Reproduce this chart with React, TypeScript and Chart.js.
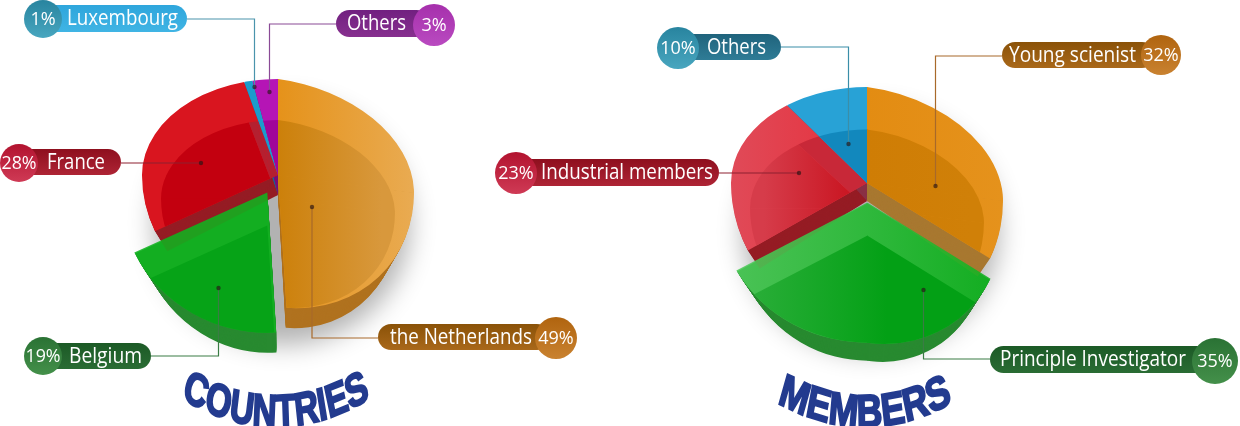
import React, { useEffect, useRef } from "react";
import { Chart, registerables } from "chart.js";

Chart.register(...registerables);

// ---------- data ----------
const countryNames = ["the Netherlands", "Belgium", "France", "Luxembourg", "Others"];
const countryShares = [49, 19, 28, 1, 3];
const memberNames = ["Young scienist", "Principle Investigator", "Industrial members", "Others"];
const memberShares = [32, 35, 23, 10];
const chartTitles = ["COUNTRIES", "MEMBERS"];

// ---------- styles ----------
// A fill is a colour or a horizontal gradient: [from, to, x0 rel. centre, x1 rel. centre]
type Fill = string | [string, string, number, number];
const countryRim: Fill[] = [["#e5921a", "#e9ab52", 0, 136], "#10b31f", "#d9151f", "#1b9ccc", "#b515b5"];
const countryInner: Fill[] = [["#cc800a", "#d8983c", 0, 120], "#06a317", "#c3000f", "#1288bd", "#a0059a"];
const countrySide = ["#b0721f", "#288a30", "#951c24", "#0f6f96", "#7a0f78"];
const memberRim: Fill[] = [["#e38c12", "#e5921c", 0, 136], ["#50cb5c", "#10b21f", -130, 130], ["#e04a58", "#e6303c", -136, 0], "#28a2d6"];
const memberInner: Fill[] = [["#cf7d05", "#d08008", 0, 120], ["#30b03e", "#03a015", -130, 20], ["#d63c4a", "#c8121e", -120, -10], "#1288bd"];
const memberSide = ["#a87830", "#288a30", "#951c24", "#8a3045"];

// pill top, pill bottom, circle top, circle bottom, leader
const palette: Record<string, [string, string, string, string, string]> = {
  orange: ["#8a5208", "#a9681a", "#b0640f", "#c98230", "#a8692a"],
  green: ["#1c5a26", "#2a6c34", "#2a7234", "#44904a", "#3a7c44"],
  red: ["#8e0f1e", "#ae2435", "#b2132f", "#cf3a55", "#8e2030"],
  sky: ["#2ea6dc", "#40b4e4", "#28849f", "#48a6bf", "#4a94ac"],
  teal: ["#1f637c", "#2f7c96", "#28849f", "#48a6bf", "#3a8ea8"],
  purple: ["#712080", "#87308f", "#a630ac", "#b94ac0", "#8a4a96"],
};

type Note = {
  name: string; pct: string; color: string;
  pill: [number, number, number, number]; // x0, x1, yTop, yBottom
  circle: [number, number, number];
  textX: number; textW: number;
  leader: [number, number][];
};

const countryNotes: Note[] = [
  { name: countryNames[3], pct: "1%", color: "sky", pill: [43, 187, 5, 32], circle: [43, 19, 19], textX: 67, textW: 111,
    leader: [[187, 19], [254.5, 19], [254.5, 87]] },
  { name: countryNames[4], pct: "3%", color: "purple", pill: [336, 430, 10, 37], circle: [434, 25, 21], textX: 347, textW: 59,
    leader: [[336, 24], [269.5, 24], [269.5, 92]] },
  { name: countryNames[2], pct: "28%", color: "red", pill: [19, 121, 149, 175], circle: [19, 163, 19], textX: 47, textW: 58,
    leader: [[121, 163], [201, 163]] },
  { name: countryNames[1], pct: "19%", color: "green", pill: [43, 151, 343, 369], circle: [43, 356, 19], textX: 69, textW: 73,
    leader: [[151, 356], [218.5, 356], [218.5, 288]] },
  { name: countryNames[0], pct: "49%", color: "orange", pill: [378, 550, 324, 350], circle: [556, 338, 21], textX: 390, textW: 142,
    leader: [[378, 338], [312, 338], [312, 207]] },
];
const memberNotes: Note[] = [
  { name: memberNames[3], pct: "10%", color: "teal", pill: [678, 781, 34, 60], circle: [678, 48, 21], textX: 707, textW: 59,
    leader: [[781, 47], [848.5, 47], [848.5, 144]] },
  { name: memberNames[0], pct: "32%", color: "orange", pill: [1002, 1155, 42, 68], circle: [1161, 55, 20], textX: 1009, textW: 127,
    leader: [[1002, 56], [935.5, 56], [935.5, 186]] },
  { name: memberNames[2], pct: "23%", color: "red", pill: [516, 719, 159, 186], circle: [516, 173, 21], textX: 541, textW: 172,
    leader: [[719, 173], [799, 173]] },
  { name: memberNames[1], pct: "35%", color: "green", pill: [990, 1210, 346, 373], circle: [1215, 361, 23], textX: 1000, textW: 186,
    leader: [[990, 359], [923.5, 359], [923.5, 290]] },
];

type Spec = {
  names: string[]; shares: number[]; rim: Fill[]; inner: Fill[]; side: string[];
  notes: Note[]; canvasLeft: number; canvasWidth: number; cx: number; cy: number;
  rx: number; ryTop: number; ryBot: number; shear: number; depth: number; explode: number;
  exScale: [number, number, number]; order: number[]; bandOn: number; bandFrom: number[]; bandColor: string;
};

const leftSpec: Spec = {
  names: countryNames, shares: countryShares, rim: countryRim, inner: countryInner, side: countrySide,
  notes: countryNotes, canvasLeft: 0, canvasWidth: 620, cx: 278, cy: 175, rx: 136, ryTop: 96, ryBot: 132, shear: 0.13,
  depth: 20, explode: 21, exScale: [1.07, 1.07, 1.05], order: [2, 3, 4, 0, 1], bandOn: 2, bandFrom: [3, 4], bandColor: "#b42030",
};
const rightSpec: Spec = {
  names: memberNames, shares: memberShares, rim: memberRim, inner: memberInner, side: memberSide,
  notes: memberNotes, canvasLeft: 480, canvasWidth: 760, cx: 867, cy: 183, rx: 136, ryTop: 96, ryBot: 140, shear: 0.13,
  depth: 18, explode: 19, exScale: [1.075, 0.975, 0.975], order: [2, 3, 0, 1], bandOn: 2, bandFrom: [3], bandColor: "#c82838",
};

let inRightHalf = false;

function resolveFill(ctx: CanvasRenderingContext2D, f: Fill, cx: number): any {
  if (typeof f === "string") return f;
  const g = ctx.createLinearGradient(cx + f[2], 0, cx + f[3], 0);
  g.addColorStop(0, f[0]);
  g.addColorStop(1, f[1]);
  return g;
}

function exploded(s: Spec) {
  return s.order[s.order.length - 1];
}

function arcOffset(arc: any) {
  const off = (arc.options.offset || 0) / 4;
  const mid = (arc.startAngle + arc.endAngle) / 2;
  return [Math.cos(mid) * off, Math.sin(mid) * off];
}

function growExploded(ctx: CanvasRenderingContext2D, s: Spec, arc: any, i: number) {
  if (i !== exploded(s)) return;
  const [ox, oy] = arcOffset(arc);
  ctx.translate(arc.x + ox, arc.y + oy);
  ctx.scale(inRightHalf ? s.exScale[1] : s.exScale[0], s.exScale[2]);
  ctx.translate(-arc.x - ox, -arc.y - oy);
}

function paint(ctx: CanvasRenderingContext2D, s: Spec, arc: any, i: number, color: any) {
  const saved = arc.options;
  ctx.save();
  growExploded(ctx, s, arc, i);
  arc.options = Object.create(saved, { backgroundColor: { value: color }, borderWidth: { value: 0 } });
  arc.draw(ctx);
  arc.options = saved;
  ctx.restore();
}

// The disc is not a plain ellipse: the apex sits above the middle and the right half leans down.
function face(ctx: CanvasRenderingContext2D, s: Spec, cx: number, overlap: number, body: () => void) {
  for (const right of [false, true]) {
    for (const top of [true, false]) {
      ctx.save();
      inRightHalf = right;
      if (right) ctx.transform(1, s.shear, 0, 1, 0, -s.shear * cx);
      ctx.beginPath();
      const xa = right ? cx : -3000;
      const xb = right ? 4000 : cx + overlap;
      const ya = top ? -3000 : s.cy;
      const yb = top ? s.cy + overlap : 3000;
      ctx.rect(xa, ya, xb - xa, yb - ya);
      ctx.clip();
      ctx.translate(cx, s.cy);
      ctx.scale(1, (top ? s.ryTop : s.ryBot) / s.rx);
      ctx.translate(-cx, -s.cy);
      body();
      ctx.restore();
    }
  }
}

function slicePath(ctx: CanvasRenderingContext2D, s: Spec, arc: any, i: number) {
  const [ox, oy] = arcOffset(arc);
  // ArcElement widens an offset slice by this much when it draws it
  const off = (arc.options.offset || 0) / 4;
  const grow = off * (1 - Math.sin(Math.min(Math.PI, arc.circumference || 0)));
  ctx.save();
  growExploded(ctx, s, arc, i);
  ctx.beginPath();
  ctx.moveTo(arc.x + ox, arc.y + oy);
  ctx.arc(arc.x + ox, arc.y + oy, arc.outerRadius + grow, arc.startAngle, arc.endAngle);
  ctx.closePath();
  ctx.restore();
}

function drawPie(ctx: CanvasRenderingContext2D, chart: any, s: Spec) {
  const arcs = chart.getDatasetMeta(0).data;
  const cx = s.cx - s.canvasLeft;
  const ex = exploded(s);
  const sideOrder = [ex, ...s.order.slice(0, -1)];

  // soft cast shadow only: the caster itself lies outside the canvas
  ctx.save();
  ctx.shadowColor = "rgba(0,0,0,0.30)";
  ctx.shadowBlur = 26;
  ctx.shadowOffsetX = 3000;
  ctx.shadowOffsetY = 0;
  ctx.fillStyle = "#000";
  ctx.beginPath();
  ctx.ellipse(cx - 3000 + 4, s.cy + 48, 128, 122, 0, 0, Math.PI * 2);
  ctx.fill();
  ctx.restore();

  // extruded side, narrowing as it goes down so that the rim has no side at its widest point
  for (const i of sideOrder) {
    for (let k = s.depth; k >= 1; k--) {
      ctx.save();
      ctx.translate(cx, k);
      ctx.scale(1 - (0.1 * k) / s.depth, 1);
      ctx.translate(-cx, 0);
      face(ctx, s, cx, 0.5, () => paint(ctx, s, arcs[i], i, s.side[i]));
      ctx.restore();
    }
  }

  const base = ctx.getTransform();
  const scaled = (i: number, color: any) => {
    const arc = arcs[i];
    const [ox, oy] = arcOffset(arc);
    const bx = cx + ox;
    const by = s.cy + s.ryBot + (oy * s.ryBot) / s.rx;
    ctx.setTransform(base);
    if (i === ex) {
      ctx.translate(0, 33);
    } else {
      ctx.translate(bx, by);
      ctx.scale(0.86, 0.82);
      ctx.translate(-bx, -by);
    }
    face(ctx, s, cx, 0.5, () => paint(ctx, s, arc, i, color));
  };

  for (const i of s.order) {
    const arc = arcs[i];
    ctx.save();
    if (i === ex) ctx.globalAlpha = 0.88;
    // only the translucent slice must avoid doubling along the seams
    face(ctx, s, cx, i === ex ? 0 : 0.6, () => paint(ctx, s, arc, i, resolveFill(ctx, s.rim[i], cx)));
    ctx.restore();
    const fill = resolveFill(ctx, s.inner[i], cx);
    face(ctx, s, cx, 0.6, () => {
      slicePath(ctx, s, arc, i);
      ctx.clip();
      scaled(i, fill);
    });
    if (i === s.bandOn) {
      for (const j of s.bandFrom) {
        face(ctx, s, cx, 0.6, () => {
          slicePath(ctx, s, arc, i);
          ctx.clip();
          scaled(j, s.bandColor);
        });
      }
    }
  }
}

function drawNotes(ctx: CanvasRenderingContext2D, s: Spec) {
  ctx.save();
  ctx.translate(-s.canvasLeft, 0);
  for (const n of s.notes) {
    const [pa, pb, ca, cb, lead] = palette[n.color];
    ctx.strokeStyle = lead;
    ctx.lineWidth = 1.2;
    ctx.beginPath();
    n.leader.forEach(([x, y], i) => (i ? ctx.lineTo(x, y) : ctx.moveTo(x, y)));
    ctx.stroke();
    const end = n.leader[n.leader.length - 1];
    ctx.fillStyle = "rgba(40,20,20,0.65)";
    ctx.beginPath();
    ctx.arc(end[0], end[1], 2.2, 0, Math.PI * 2);
    ctx.fill();
    const [x0, x1, y0, y1] = n.pill;
    const g = ctx.createLinearGradient(0, y0, 0, y1);
    g.addColorStop(0, pa);
    g.addColorStop(1, pb);
    ctx.fillStyle = g;
    ctx.beginPath();
    ctx.roundRect(x0, y0, x1 - x0, y1 - y0, (y1 - y0) / 2);
    ctx.fill();
    const [cx, cy, r] = n.circle;
    const h = ctx.createLinearGradient(0, cy - r, 0, cy + r);
    h.addColorStop(0, ca);
    h.addColorStop(1, cb);
    ctx.fillStyle = h;
    ctx.beginPath();
    ctx.arc(cx, cy, r, 0, Math.PI * 2);
    ctx.fill();
    ctx.fillStyle = "#ffffff";
    ctx.textBaseline = "middle";
    ctx.textAlign = "left";
    ctx.font = '21px "Open Sans"';
    ctx.fillText(n.name, n.textX, (y0 + y1) / 2 + 1, n.textW);
    ctx.textAlign = "center";
    ctx.font = '18px "Open Sans"';
    ctx.fillText(n.pct, cx, cy + 1, r * 1.85);
  }
  ctx.restore();
}

function makeChart(canvas: HTMLCanvasElement, s: Spec) {
  const cxLocal = s.cx - s.canvasLeft;
  const padLeft = Math.max(0, 2 * cxLocal - s.canvasWidth);
  const padRight = Math.max(0, s.canvasWidth - 2 * cxLocal);
  return new Chart(canvas, {
    type: "pie",
    data: {
      labels: s.names,
      datasets: [{
        data: s.shares,
        backgroundColor: s.rim.map((f) => (typeof f === "string" ? f : f[0])),
        borderWidth: 0,
        clip: false,
        offset: s.shares.map((_, i) => (i === exploded(s) ? s.explode * 4 : 0)),
      } as any],
    },
    options: {
      responsive: false,
      animation: false,
      events: [],
      radius: s.rx,
      layout: { padding: { left: padLeft, right: padRight, top: 0, bottom: 426 - 2 * s.cy } },
      plugins: { legend: { display: false }, tooltip: { enabled: false } },
    } as any,
    plugins: [{
      id: "depthPie",
      beforeDatasetsDraw(chart: any) {
        drawPie(chart.ctx, chart, s);
        return false;
      },
      afterDraw(chart: any) {
        drawNotes(chart.ctx, s);
      },
    }],
  });
}

export default function App() {
  const a = useRef<HTMLCanvasElement>(null);
  const b = useRef<HTMLCanvasElement>(null);
  useEffect(() => {
    const c1 = makeChart(a.current!, leftSpec);
    const c2 = makeChart(b.current!, rightSpec);
    return () => { c1.destroy(); c2.destroy(); };
  }, []);
  const titleStyle: React.CSSProperties = {
    fontFamily: '"Liberation Sans", sans-serif',
    fontWeight: 700,
    fill: "#233b8f",
    stroke: "#233b8f",
    strokeWidth: 2.2,
    textAnchor: "middle",
    fontSize: 46,
  };
  return (
    <div style={{ position: "fixed", left: 0, top: 0, width: 1240, height: 426, background: "#fff", overflow: "hidden" }}>
      <canvas ref={a} width={leftSpec.canvasWidth} height={426} style={{ position: "absolute", left: leftSpec.canvasLeft, top: 0 }} />
      <canvas ref={b} width={rightSpec.canvasWidth} height={426} style={{ position: "absolute", left: rightSpec.canvasLeft, top: 0 }} />
      <svg width={1240} height={426} style={{ position: "absolute", left: 0, top: 0 }}>
        <defs>
          <path id="arcL" d="M 96 373 Q 276 481 456 373" />
          <path id="arcR" d="M 696 373 Q 865 481 1034 373" />
        </defs>
        <g transform="translate(276 0) scale(0.72 1) translate(-276 0)">
          <text style={titleStyle}>
            <textPath href="#arcL" startOffset="50%">{chartTitles[0]}</textPath>
          </text>
        </g>
        <g transform="translate(865 0) scale(0.77 1) translate(-865 0)">
          <text style={titleStyle}>
            <textPath href="#arcR" startOffset="50%">{chartTitles[1]}</textPath>
          </text>
        </g>
      </svg>
    </div>
  );
}
